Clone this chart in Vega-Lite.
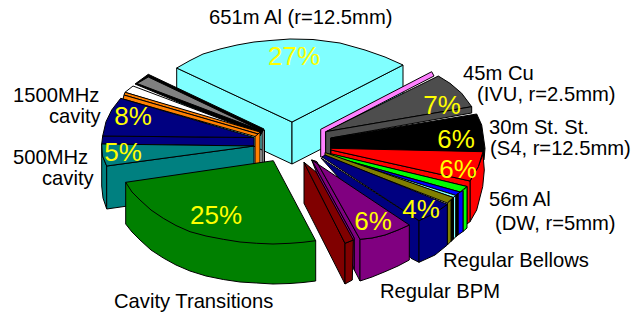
{
"$schema":"https://vega.github.io/schema/vega-lite/v6.json",
"width":636,"height":320,
"autosize":{"type":"fit","contains":"padding"},
"padding":0,
"background":"white",
"view":{"stroke":null},
"datasets":{
"faces":[
{"face":"al651-left","part":"al651","n":0,"x":176.7,"y":68},{"face":"al651-left","part":"al651","n":1,"x":292,"y":122},{"face":"al651-left","part":"al651","n":2,"x":292,"y":164},{"face":"al651-left","part":"al651","n":3,"x":176.7,"y":110},{"face":"al651-left","part":"al651","n":4,"x":176.7,"y":68},
{"face":"al651-right","part":"al651","n":0,"x":292,"y":122},{"face":"al651-right","part":"al651","n":1,"x":403,"y":65},{"face":"al651-right","part":"al651","n":2,"x":403,"y":107},{"face":"al651-right","part":"al651","n":3,"x":292,"y":164},{"face":"al651-right","part":"al651","n":4,"x":292,"y":122},
{"face":"al651-top","part":"al651","n":0,"x":176.7,"y":68},{"face":"al651-top","part":"al651","n":1,"x":190,"y":60.5},{"face":"al651-top","part":"al651","n":2,"x":203,"y":54},{"face":"al651-top","part":"al651","n":3,"x":220,"y":49},{"face":"al651-top","part":"al651","n":4,"x":237,"y":45},{"face":"al651-top","part":"al651","n":5,"x":254,"y":42},{"face":"al651-top","part":"al651","n":6,"x":270,"y":40.5},{"face":"al651-top","part":"al651","n":7,"x":290,"y":39},{"face":"al651-top","part":"al651","n":8,"x":313,"y":39.5},{"face":"al651-top","part":"al651","n":9,"x":340,"y":43},{"face":"al651-top","part":"al651","n":10,"x":365,"y":50},{"face":"al651-top","part":"al651","n":11,"x":385,"y":57},{"face":"al651-top","part":"al651","n":12,"x":403,"y":65},{"face":"al651-top","part":"al651","n":13,"x":292,"y":122},{"face":"al651-top","part":"al651","n":14,"x":176.7,"y":68},

{"face":"gray-strip","part":"gray","n":0,"x":262,"y":130},{"face":"gray-strip","part":"gray","n":1,"x":264.5,"y":130},{"face":"gray-strip","part":"gray","n":2,"x":264.5,"y":165},{"face":"gray-strip","part":"gray","n":3,"x":262,"y":165},{"face":"gray-strip","part":"gray","n":4,"x":262,"y":130},
{"face":"ink-wedge","part":"ink","n":0,"x":264,"y":129},{"face":"ink-wedge","part":"ink","n":1,"x":148.3,"y":74.3},{"face":"ink-wedge","part":"ink","n":2,"x":135,"y":84},{"face":"ink-wedge","part":"ink","n":3,"x":260,"y":136},{"face":"ink-wedge","part":"ink","n":4,"x":264,"y":129},
{"face":"gray-top","part":"gray","n":0,"x":261,"y":130.5},{"face":"gray-top","part":"gray","n":1,"x":148.3,"y":77},{"face":"gray-top","part":"gray","n":2,"x":137,"y":83.5},{"face":"gray-top","part":"gray","n":3,"x":261,"y":130.5},
{"face":"white-top","part":"white","n":0,"x":258,"y":133},{"face":"white-top","part":"white","n":1,"x":133,"y":86},{"face":"white-top","part":"white","n":2,"x":125,"y":92.3},{"face":"white-top","part":"white","n":3,"x":258,"y":133},
{"face":"orange-strip","part":"orange","n":0,"x":255,"y":132},{"face":"orange-strip","part":"orange","n":1,"x":260,"y":132},{"face":"orange-strip","part":"orange","n":2,"x":260,"y":165},{"face":"orange-strip","part":"orange","n":3,"x":255,"y":165},{"face":"orange-strip","part":"orange","n":4,"x":255,"y":132},
{"face":"orange-a","part":"orange","n":0,"x":260,"y":132},{"face":"orange-a","part":"orange","n":1,"x":125,"y":92.3},{"face":"orange-a","part":"orange","n":2,"x":124,"y":95},{"face":"orange-a","part":"orange","n":3,"x":258,"y":134},{"face":"orange-a","part":"orange","n":4,"x":260,"y":132},
{"face":"orange-b","part":"orange","n":0,"x":258,"y":134},{"face":"orange-b","part":"orange","n":1,"x":124,"y":95},{"face":"orange-b","part":"orange","n":2,"x":123,"y":99},{"face":"orange-b","part":"orange","n":3,"x":255,"y":136.5},{"face":"orange-b","part":"orange","n":4,"x":258,"y":134},

{"face":"rf1500-side","part":"navy","n":0,"x":102.7,"y":136},{"face":"rf1500-side","part":"navy","n":1,"x":254,"y":137.5},{"face":"rf1500-side","part":"navy","n":2,"x":254,"y":146},{"face":"rf1500-side","part":"navy","n":3,"x":101.7,"y":144},{"face":"rf1500-side","part":"navy","n":4,"x":102.7,"y":136},
{"face":"rf1500-top","part":"navy","n":0,"x":254,"y":137.5},{"face":"rf1500-top","part":"navy","n":1,"x":120.7,"y":98.3},{"face":"rf1500-top","part":"navy","n":2,"x":111.7,"y":110},{"face":"rf1500-top","part":"navy","n":3,"x":106,"y":121.7},{"face":"rf1500-top","part":"navy","n":4,"x":102.7,"y":136},{"face":"rf1500-top","part":"navy","n":5,"x":254,"y":137.5},

{"face":"rf500-outer","part":"teal","n":0,"x":101.7,"y":144},{"face":"rf500-outer","part":"teal","n":1,"x":102.5,"y":156},{"face":"rf500-outer","part":"teal","n":2,"x":106.7,"y":166},{"face":"rf500-outer","part":"teal","n":3,"x":106.7,"y":209},{"face":"rf500-outer","part":"teal","n":4,"x":103,"y":198},{"face":"rf500-outer","part":"teal","n":5,"x":101.7,"y":186},{"face":"rf500-outer","part":"teal","n":6,"x":101.7,"y":144},
{"face":"rf500-front","part":"teal","n":0,"x":106.7,"y":166},{"face":"rf500-front","part":"teal","n":1,"x":254,"y":146},{"face":"rf500-front","part":"teal","n":2,"x":254,"y":188},{"face":"rf500-front","part":"teal","n":3,"x":106.7,"y":209},{"face":"rf500-front","part":"teal","n":4,"x":106.7,"y":166},
{"face":"rf500-top","part":"teal","n":0,"x":101.7,"y":144},{"face":"rf500-top","part":"teal","n":1,"x":254,"y":146},{"face":"rf500-top","part":"teal","n":2,"x":106.7,"y":166},{"face":"rf500-top","part":"teal","n":3,"x":102.5,"y":156},{"face":"rf500-top","part":"teal","n":4,"x":101.7,"y":144},

{"face":"transitions-side","part":"green","n":0,"x":125.7,"y":182.3},{"face":"transitions-side","part":"green","n":1,"x":125.7,"y":224},{"face":"transitions-side","part":"green","n":2,"x":132,"y":232},{"face":"transitions-side","part":"green","n":3,"x":140,"y":240},{"face":"transitions-side","part":"green","n":4,"x":151,"y":250},{"face":"transitions-side","part":"green","n":5,"x":163.3,"y":258},{"face":"transitions-side","part":"green","n":6,"x":176,"y":265},{"face":"transitions-side","part":"green","n":7,"x":190,"y":271},{"face":"transitions-side","part":"green","n":8,"x":206,"y":276},{"face":"transitions-side","part":"green","n":9,"x":223.3,"y":279.5},{"face":"transitions-side","part":"green","n":10,"x":240,"y":282},{"face":"transitions-side","part":"green","n":11,"x":256.7,"y":283},{"face":"transitions-side","part":"green","n":12,"x":273,"y":284},{"face":"transitions-side","part":"green","n":13,"x":290,"y":283.5},{"face":"transitions-side","part":"green","n":14,"x":303,"y":282.5},{"face":"transitions-side","part":"green","n":15,"x":315.7,"y":281},{"face":"transitions-side","part":"green","n":16,"x":315.7,"y":240.7},{"face":"transitions-side","part":"green","n":17,"x":125.7,"y":182.3},
{"face":"transitions-top","part":"green","n":0,"x":125.7,"y":182.3},{"face":"transitions-top","part":"green","n":1,"x":132,"y":192},{"face":"transitions-top","part":"green","n":2,"x":140,"y":200},{"face":"transitions-top","part":"green","n":3,"x":151,"y":210},{"face":"transitions-top","part":"green","n":4,"x":163.3,"y":218.3},{"face":"transitions-top","part":"green","n":5,"x":176,"y":225.5},{"face":"transitions-top","part":"green","n":6,"x":190,"y":231.7},{"face":"transitions-top","part":"green","n":7,"x":206,"y":236},{"face":"transitions-top","part":"green","n":8,"x":223.3,"y":239.3},{"face":"transitions-top","part":"green","n":9,"x":240,"y":242},{"face":"transitions-top","part":"green","n":10,"x":256.7,"y":243.3},{"face":"transitions-top","part":"green","n":11,"x":273,"y":244},{"face":"transitions-top","part":"green","n":12,"x":290,"y":243.3},{"face":"transitions-top","part":"green","n":13,"x":303,"y":242.3},{"face":"transitions-top","part":"green","n":14,"x":315.7,"y":240.7},{"face":"transitions-top","part":"green","n":15,"x":273.3,"y":160.7},{"face":"transitions-top","part":"green","n":16,"x":125.7,"y":182.3},

{"face":"cu45-pink","part":"pink","n":0,"x":320.7,"y":129.3},{"face":"cu45-pink","part":"pink","n":1,"x":431.7,"y":71.7},{"face":"cu45-pink","part":"pink","n":2,"x":434,"y":76},{"face":"cu45-pink","part":"pink","n":3,"x":325.7,"y":132},{"face":"cu45-pink","part":"pink","n":4,"x":325.7,"y":157},{"face":"cu45-pink","part":"pink","n":5,"x":320.7,"y":157},{"face":"cu45-pink","part":"pink","n":6,"x":320.7,"y":129.3},
{"face":"cu45-top","part":"slate","n":0,"x":325.7,"y":131.7},{"face":"cu45-top","part":"slate","n":1,"x":438.3,"y":76},{"face":"cu45-top","part":"slate","n":2,"x":450,"y":83.3},{"face":"cu45-top","part":"slate","n":3,"x":461.7,"y":93.3},{"face":"cu45-top","part":"slate","n":4,"x":471.7,"y":106.7},{"face":"cu45-top","part":"slate","n":5,"x":325.7,"y":131.7},
{"face":"cu45-side","part":"slate","n":0,"x":325.7,"y":131.7},{"face":"cu45-side","part":"slate","n":1,"x":471.7,"y":106.7},{"face":"cu45-side","part":"slate","n":2,"x":471.7,"y":113},{"face":"cu45-side","part":"slate","n":3,"x":330.7,"y":138},{"face":"cu45-side","part":"slate","n":4,"x":330.7,"y":154},{"face":"cu45-side","part":"slate","n":5,"x":325.7,"y":154},{"face":"cu45-side","part":"slate","n":6,"x":325.7,"y":131.7},
{"face":"ss30-top","part":"ink","n":0,"x":330.7,"y":138},{"face":"ss30-top","part":"ink","n":1,"x":476.7,"y":114},{"face":"ss30-top","part":"ink","n":2,"x":481.7,"y":125},{"face":"ss30-top","part":"ink","n":3,"x":485,"y":148.3},{"face":"ss30-top","part":"ink","n":4,"x":484,"y":160},{"face":"ss30-top","part":"ink","n":5,"x":330.7,"y":154},{"face":"ss30-top","part":"ink","n":6,"x":330.7,"y":138},
{"face":"al56-side","part":"red","n":0,"x":470,"y":181},{"face":"al56-side","part":"red","n":1,"x":478.3,"y":166.7},{"face":"al56-side","part":"red","n":2,"x":483,"y":154},{"face":"al56-side","part":"red","n":3,"x":484.3,"y":170},{"face":"al56-side","part":"red","n":4,"x":482.7,"y":186.7},{"face":"al56-side","part":"red","n":5,"x":476.7,"y":210},{"face":"al56-side","part":"red","n":6,"x":470,"y":221.7},{"face":"al56-side","part":"red","n":7,"x":470,"y":181},
{"face":"al56-band","part":"red","n":0,"x":331,"y":150},{"face":"al56-band","part":"red","n":1,"x":470,"y":181},{"face":"al56-band","part":"red","n":2,"x":470,"y":221.7},{"face":"al56-band","part":"red","n":3,"x":467,"y":224},{"face":"al56-band","part":"red","n":4,"x":467,"y":186.5},{"face":"al56-band","part":"red","n":5,"x":331,"y":154},{"face":"al56-band","part":"red","n":6,"x":331,"y":150},
{"face":"al56-top","part":"red","n":0,"x":330.7,"y":148.3},{"face":"al56-top","part":"red","n":1,"x":483,"y":151.7},{"face":"al56-top","part":"red","n":2,"x":478.3,"y":166.7},{"face":"al56-top","part":"red","n":3,"x":470,"y":181},{"face":"al56-top","part":"red","n":4,"x":331,"y":150},{"face":"al56-top","part":"red","n":5,"x":330.7,"y":148.3},

{"face":"lime-side","part":"lime","n":0,"x":463,"y":190.5},{"face":"lime-side","part":"lime","n":1,"x":467,"y":186.5},{"face":"lime-side","part":"lime","n":2,"x":467,"y":228},{"face":"lime-side","part":"lime","n":3,"x":463,"y":231.5},{"face":"lime-side","part":"lime","n":4,"x":463,"y":190.5},
{"face":"lime-top","part":"lime","n":0,"x":332,"y":154},{"face":"lime-top","part":"lime","n":1,"x":467,"y":186.5},{"face":"lime-top","part":"lime","n":2,"x":460,"y":192},{"face":"lime-top","part":"lime","n":3,"x":331,"y":156},{"face":"lime-top","part":"lime","n":4,"x":332,"y":154},
{"face":"bright-side","part":"blue","n":0,"x":458,"y":193.5},{"face":"bright-side","part":"blue","n":1,"x":463,"y":190.5},{"face":"bright-side","part":"blue","n":2,"x":463,"y":231.5},{"face":"bright-side","part":"blue","n":3,"x":458,"y":235},{"face":"bright-side","part":"blue","n":4,"x":458,"y":193.5},
{"face":"bright-top","part":"blue","n":0,"x":330,"y":156},{"face":"bright-top","part":"blue","n":1,"x":460,"y":192},{"face":"bright-top","part":"blue","n":2,"x":456,"y":195.5},{"face":"bright-top","part":"blue","n":3,"x":330,"y":156},
{"face":"dark-side","part":"ink","n":0,"x":455.7,"y":195.5},{"face":"dark-side","part":"ink","n":1,"x":458,"y":193.5},{"face":"dark-side","part":"ink","n":2,"x":458,"y":235},{"face":"dark-side","part":"ink","n":3,"x":455.7,"y":237},{"face":"dark-side","part":"ink","n":4,"x":455.7,"y":195.5},
{"face":"cyan-side","part":"al651","n":0,"x":453.3,"y":197.5},{"face":"cyan-side","part":"al651","n":1,"x":455.7,"y":195.5},{"face":"cyan-side","part":"al651","n":2,"x":455.7,"y":237},{"face":"cyan-side","part":"al651","n":3,"x":453.3,"y":239},{"face":"cyan-side","part":"al651","n":4,"x":453.3,"y":197.5},
{"face":"cyan-top","part":"al651","n":0,"x":328,"y":155},{"face":"cyan-top","part":"al651","n":1,"x":456,"y":195.5},{"face":"cyan-top","part":"al651","n":2,"x":453.3,"y":197.5},{"face":"cyan-top","part":"al651","n":3,"x":328,"y":155},
{"face":"olive-side","part":"olive","n":0,"x":447.3,"y":203},{"face":"olive-side","part":"olive","n":1,"x":453.3,"y":197.5},{"face":"olive-side","part":"olive","n":2,"x":453.3,"y":239},{"face":"olive-side","part":"olive","n":3,"x":447.3,"y":245},{"face":"olive-side","part":"olive","n":4,"x":447.3,"y":203},
{"face":"olive-stripe","part":"ink","n":0,"x":451,"y":199.5},{"face":"olive-stripe","part":"ink","n":1,"x":453.3,"y":197.5},{"face":"olive-stripe","part":"ink","n":2,"x":453.3,"y":239},{"face":"olive-stripe","part":"ink","n":3,"x":451,"y":241.5},{"face":"olive-stripe","part":"ink","n":4,"x":451,"y":199.5},
{"face":"olive-top","part":"olive","n":0,"x":325,"y":152.5},{"face":"olive-top","part":"olive","n":1,"x":453.3,"y":197.5},{"face":"olive-top","part":"olive","n":2,"x":447.3,"y":203},{"face":"olive-top","part":"olive","n":3,"x":325,"y":156},{"face":"olive-top","part":"olive","n":4,"x":325,"y":152.5},

{"face":"dw-side","part":"navy","n":0,"x":321,"y":158},{"face":"dw-side","part":"navy","n":1,"x":419,"y":220.7},{"face":"dw-side","part":"navy","n":2,"x":419,"y":262.3},{"face":"dw-side","part":"navy","n":3,"x":411,"y":258.3},{"face":"dw-side","part":"navy","n":4,"x":321,"y":158},
{"face":"dw-front","part":"navy","n":0,"x":419,"y":220.7},{"face":"dw-front","part":"navy","n":1,"x":435,"y":213},{"face":"dw-front","part":"navy","n":2,"x":447.3,"y":204.3},{"face":"dw-front","part":"navy","n":3,"x":447.3,"y":245},{"face":"dw-front","part":"navy","n":4,"x":435,"y":255},{"face":"dw-front","part":"navy","n":5,"x":419,"y":262.3},{"face":"dw-front","part":"navy","n":6,"x":419,"y":220.7},
{"face":"dw-top","part":"navy","n":0,"x":322,"y":157},{"face":"dw-top","part":"navy","n":1,"x":419,"y":220.7},{"face":"dw-top","part":"navy","n":2,"x":435,"y":213},{"face":"dw-top","part":"navy","n":3,"x":447.3,"y":204.3},{"face":"dw-top","part":"navy","n":4,"x":325,"y":155},{"face":"dw-top","part":"navy","n":5,"x":322,"y":157},

{"face":"bpm-side-a","part":"purple","n":0,"x":311.7,"y":160},{"face":"bpm-side-a","part":"purple","n":1,"x":354.3,"y":238},{"face":"bpm-side-a","part":"purple","n":2,"x":354.3,"y":270},{"face":"bpm-side-a","part":"purple","n":3,"x":311.7,"y":160},
{"face":"bpm-side-b","part":"purple","n":0,"x":311.7,"y":160},{"face":"bpm-side-b","part":"purple","n":1,"x":316.7,"y":161.7},{"face":"bpm-side-b","part":"purple","n":2,"x":360,"y":239.3},{"face":"bpm-side-b","part":"purple","n":3,"x":360,"y":281},{"face":"bpm-side-b","part":"purple","n":4,"x":354.3,"y":270},{"face":"bpm-side-b","part":"purple","n":5,"x":354.3,"y":238},{"face":"bpm-side-b","part":"purple","n":6,"x":311.7,"y":160},
{"face":"bpm-front","part":"purple","n":0,"x":360,"y":239.3},{"face":"bpm-front","part":"purple","n":1,"x":372,"y":238},{"face":"bpm-front","part":"purple","n":2,"x":385,"y":235},{"face":"bpm-front","part":"purple","n":3,"x":398,"y":230},{"face":"bpm-front","part":"purple","n":4,"x":409.3,"y":225},{"face":"bpm-front","part":"purple","n":5,"x":409.3,"y":260},{"face":"bpm-front","part":"purple","n":6,"x":398,"y":266},{"face":"bpm-front","part":"purple","n":7,"x":385,"y":271.7},{"face":"bpm-front","part":"purple","n":8,"x":372,"y":277},{"face":"bpm-front","part":"purple","n":9,"x":360,"y":281},{"face":"bpm-front","part":"purple","n":10,"x":360,"y":239.3},
{"face":"bpm-top","part":"purple","n":0,"x":316.7,"y":161.7},{"face":"bpm-top","part":"purple","n":1,"x":360,"y":239.3},{"face":"bpm-top","part":"purple","n":2,"x":372,"y":238},{"face":"bpm-top","part":"purple","n":3,"x":385,"y":235},{"face":"bpm-top","part":"purple","n":4,"x":398,"y":230},{"face":"bpm-top","part":"purple","n":5,"x":409.3,"y":225},{"face":"bpm-top","part":"purple","n":6,"x":311.7,"y":160},{"face":"bpm-top","part":"purple","n":7,"x":316.7,"y":161.7},

{"face":"maroon-left","part":"maroon","n":0,"x":304,"y":162.3},{"face":"maroon-left","part":"maroon","n":1,"x":345,"y":243.3},{"face":"maroon-left","part":"maroon","n":2,"x":345,"y":284},{"face":"maroon-left","part":"maroon","n":3,"x":304,"y":203.3},{"face":"maroon-left","part":"maroon","n":4,"x":304,"y":162.3},
{"face":"maroon-right","part":"maroon","n":0,"x":345,"y":243.3},{"face":"maroon-right","part":"maroon","n":1,"x":353.3,"y":240},{"face":"maroon-right","part":"maroon","n":2,"x":352.3,"y":280},{"face":"maroon-right","part":"maroon","n":3,"x":345,"y":284},{"face":"maroon-right","part":"maroon","n":4,"x":345,"y":243.3},
{"face":"maroon-top","part":"maroon","n":0,"x":304,"y":162.3},{"face":"maroon-top","part":"maroon","n":1,"x":316,"y":172},{"face":"maroon-top","part":"maroon","n":2,"x":353.3,"y":240},{"face":"maroon-top","part":"maroon","n":3,"x":345,"y":243.3},{"face":"maroon-top","part":"maroon","n":4,"x":304,"y":162.3}
],
"shares":[
{"slice":"651m Al","percent":27,"label":"27%","x":294,"y":57},
{"slice":"45m Cu","percent":7,"label":"7%","x":442,"y":106},
{"slice":"30m St. St.","percent":6,"label":"6%","x":456,"y":140},
{"slice":"56m Al","percent":6,"label":"6%","x":458,"y":170},
{"slice":"Regular Bellows","percent":4,"label":"4%","x":421,"y":210},
{"slice":"Regular BPM","percent":6,"label":"6%","x":373,"y":222},
{"slice":"Cavity Transitions","percent":25,"label":"25%","x":216,"y":216},
{"slice":"500MHz cavity","percent":5,"label":"5%","x":123,"y":153},
{"slice":"1500MHz cavity","percent":8,"label":"8%","x":133,"y":117}
],
"captions":[
{"text":"651m Al (r=12.5mm)","x":209,"y":18},
{"text":"45m Cu","x":463,"y":74},
{"text":"(IVU, r=2.5mm)","x":477,"y":95},
{"text":"30m St. St.","x":489,"y":128},
{"text":"(S4, r=12.5mm)","x":490,"y":149},
{"text":"56m Al","x":489,"y":200},
{"text":"(DW, r=5mm)","x":495,"y":224},
{"text":"Regular Bellows","x":443,"y":261},
{"text":"Regular BPM","x":380,"y":292},
{"text":"Cavity Transitions","x":114,"y":302},
{"text":"1500MHz","x":13,"y":96},
{"text":"cavity","x":49,"y":117},
{"text":"500MHz","x":13,"y":158},
{"text":"cavity","x":42,"y":179}
]
},
"layer":[
{"data":{"name":"faces"},
 "mark":{"type":"line","stroke":"#000000","strokeWidth":1,"strokeJoin":"round","interpolate":"linear"},
 "encoding":{
  "x":{"field":"x","type":"quantitative","scale":{"domain":[0,636],"nice":false,"zero":false},"axis":null},
  "y":{"field":"y","type":"quantitative","scale":{"domain":[320,0],"nice":false,"zero":false},"axis":null},
  "detail":{"field":"face"},
  "order":{"field":"n","type":"quantitative"},
  "fill":{"field":"part","type":"nominal","legend":null,"scale":{
    "domain":["al651","gray","slate","ink","white","orange","navy","teal","green","pink","red","lime","blue","olive","purple","maroon"],
    "range":["#80FFFF","#808080","#4D4D4D","#000000","#FFFFFF","#FF8000","#000080","#008080","#008000","#FF80FF","#FF0000","#00FF00","#0000FF","#808000","#800080","#800000"]}}
 }},
{"data":{"name":"shares"},
 "mark":{"type":"text","font":"Liberation Sans","fontSize":26,"fill":"#FFFF00","align":"center","baseline":"middle"},
 "encoding":{
  "x":{"field":"x","type":"quantitative","scale":{"domain":[0,636],"nice":false,"zero":false},"axis":null},
  "y":{"field":"y","type":"quantitative","scale":{"domain":[320,0],"nice":false,"zero":false},"axis":null},
  "text":{"field":"label"}
 }},
{"data":{"name":"captions"},
 "mark":{"type":"text","font":"Liberation Sans","fontSize":20.2,"fill":"#000000","align":"left","baseline":"middle"},
 "encoding":{
  "x":{"field":"x","type":"quantitative","scale":{"domain":[0,636],"nice":false,"zero":false},"axis":null},
  "y":{"field":"y","type":"quantitative","scale":{"domain":[320,0],"nice":false,"zero":false},"axis":null},
  "text":{"field":"text"}
 }}
]
}
